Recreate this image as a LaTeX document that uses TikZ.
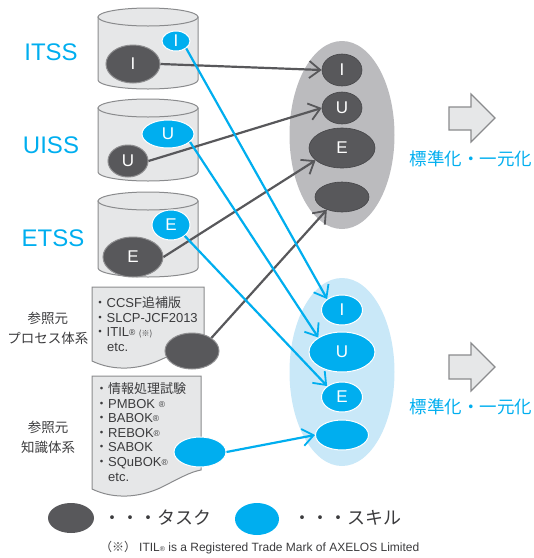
\documentclass[tikz,border=0pt]{standalone}
\usepackage{fontspec}
\setmainfont{Liberation Sans}
\newfontfamily\cjk{Noto Sans CJK JP}
\usetikzlibrary{shapes.geometric,arrows.meta}
\definecolor{cyanc}{HTML}{00AEEF}
\definecolor{taskc}{HTML}{58585B}
\definecolor{taskedge}{HTML}{8E8E90}
\definecolor{bigg}{HTML}{BBBBBE}
\definecolor{bigb}{HTML}{C9E8F8}
\definecolor{boxfill}{HTML}{E6E7E8}
\definecolor{boxedge}{HTML}{8A8B8D}
\definecolor{txt}{HTML}{3B3B3D}
\newcommand\cylshape[3]{%
 \filldraw[fill=boxfill,draw=boxedge,line width=1pt] (#1-50,#2) -- (#1-50,#3) arc[start angle=180,end angle=360,x radius=50pt,y radius=9pt] -- (#1+50,#2) -- cycle;
 \filldraw[fill=boxfill,draw=boxedge,line width=1pt] (#1,#2) ellipse[x radius=50pt,y radius=9pt];
}
\newcommand\regm{\raisebox{1pt}{\fontsize{8.5}{8.5}\selectfont ®}}
\begin{document}
\begin{tikzpicture}[x=1pt,y=-1pt,
 sz/.style 2 args={minimum width=#1pt,minimum height=#2pt},
 task/.style={ellipse,inner sep=0pt,fill=taskc,text=white,font=\fontsize{17}{17}\selectfont},
 skill/.style={ellipse,inner sep=0pt,fill=cyanc,text=white,font=\fontsize{17}{17}\selectfont},
 tedge/.style={draw=taskedge,line width=1pt},
 sedge/.style={draw=white,line width=1pt},
 tline/.style={draw=taskc,line width=2.2pt,-{Straight Barb[length=11pt,width=17pt,line width=1.8pt]}},
 sline/.style={draw=cyanc,line width=2.2pt,-{Straight Barb[length=11pt,width=17pt,line width=1.8pt]}},
 lab/.style={text=cyanc,font=\fontsize{24}{24}\selectfont,inner sep=0pt},
 reflab/.style={text=txt,font=\cjk\fontsize{13.5}{20}\selectfont,align=center,inner sep=0pt},
 doctext/.style={text=txt,font=\fontsize{13}{13}\selectfont,anchor=base west,inner sep=0pt},
 stdtext/.style={text=cyanc,font=\cjk\fontsize{17.5}{17.5}\selectfont,inner sep=0pt},
 blockarrow/.style={fill=boxfill,draw=boxedge,line width=1.2pt,line join=miter},
 legtext/.style={text=txt,font=\cjk\fontsize{18}{18}\selectfont,anchor=west,inner sep=0pt}]
\useasboundingbox (0,0) rectangle (534,558);

% labels
\node[lab] (lI) at (51,52) {ITSS};
\node[lab] (lU) at (51,145) {UISS};
\node[lab] (lE) at (53,238) {ETSS};

% cylinders
\cylshape{148}{17}{80}
\cylshape{148}{108}{172}
\cylshape{148}{201}{268}

\node[task,tedge,sz={54}{38}] (tI) at (133,64) {I};
\node[skill,sedge,sz={28}{20}] (sI) at (176,41) {I};
\node[skill,sedge,sz={52}{28}] (sU) at (168,134) {U};
\node[task,tedge,sz={40}{32}] (tU) at (128,161) {U};
\node[skill,sedge,sz={38}{30}] (sE) at (171,225) {E};
\node[task,tedge,sz={60}{40}] (tE) at (133,257) {E};

% documents
\filldraw[fill=boxfill,draw=boxedge,line width=1pt] (92,287) -- (204,287) -- (204,345)
  .. controls (190,347) and (180,351) .. (160,360) .. controls (140,369) and (115,372) .. (92,361) -- cycle;
\filldraw[fill=boxfill,draw=boxedge,line width=1pt] (92,376) -- (201,376) -- (201,470)
  .. controls (190,472) and (180,478) .. (160,488) .. controls (140,497) and (115,500) .. (92,489) -- cycle;

\node[doctext] (d1a) at (93.5,307.5) {{\cjk ・}CCSF{\cjk 追補版}};
\node[doctext] (d1b) at (93.5,322.2) {{\cjk ・}SLCP-JCF2013};
\node[doctext] (d1c) at (93.5,336.9) {{\cjk ・}ITIL\regm\ {\cjk\fontsize{8}{8}\selectfont (※)}};
\node[doctext] (d1d) at (107,351.6) {etc.};

\node[doctext] (d2a) at (95,393.5) {{\cjk ・情報処理試験}};
\node[doctext] (d2b) at (95,408.1) {{\cjk ・}PMBOK \regm};
\node[doctext] (d2c) at (95,422.7) {{\cjk ・}BABOK\regm};
\node[doctext] (d2d) at (95,437.3) {{\cjk ・}REBOK\regm};
\node[doctext] (d2e) at (95,451.9) {{\cjk ・}SABOK};
\node[doctext] (d2f) at (95,466.5) {{\cjk ・}SQuBOK\regm};
\node[doctext] (d2g) at (108,481.1) {etc.};

\node[task,tedge,sz={54}{36}] (tP) at (192,351) {};
\node[skill,sedge,sz={52}{30}] (sK) at (200,452) {};

\node[reflab] (r1) at (48,328) {参照元\\プロセス体系};
\node[reflab] (r2) at (48,437) {参照元\\知識体系};

% big ellipses
\node[ellipse,fill=bigg,sz={105}{188}] (bigG) at (342,135) {};
\node[ellipse,fill=bigb,sz={105}{188}] (bigB) at (342,372) {};

\node[task,draw=taskc!80!black,line width=0.6pt,sz={40}{32}] (gI) at (342,70) {I};
\node[task,draw=taskc!80!black,line width=0.6pt,sz={40}{32}] (gU) at (342,108) {U};
\node[task,draw=taskc!80!black,line width=0.6pt,sz={66}{40}] (gE) at (342,148) {E};
\node[task,draw=taskc!80!black,line width=0.6pt,sz={54}{30}] (gX) at (342,197) {};

\node[skill,sedge,sz={41}{30}] (kI) at (342,310) {I};
\node[skill,sedge,sz={66}{40}] (kU) at (342,352) {U};
\node[skill,sedge,sz={41}{30}] (kE) at (342,397) {E};
\node[skill,sedge,sz={53}{30}] (kX) at (342,435) {};

% block arrows and texts
\filldraw[blockarrow] (449,107) -- (471,107) -- (471,94) -- (495,118) -- (471,142) -- (471,130) -- (449,130) -- cycle;
\filldraw[blockarrow] (449,355) -- (471,355) -- (471,343) -- (495,367) -- (471,391) -- (471,379) -- (449,379) -- cycle;
\node[stdtext] (std1) at (471,159) {標準化・一元化};
\node[stdtext] (std2) at (471,407) {標準化・一元化};

% connectors
\draw[tline] (tI.east) -- (gI.west);
\draw[tline] (tU.east) -- (gU.west);
\draw[tline] (tE.east) -- (gE.205);
\draw[tline] (tP.north east) -- (gX.220);
\draw[sline] (sI.south east) -- (kI.north west);
\draw[sline] (sU.-20) -- (kU.north west);
\draw[sline] (sE.south east) -- (kE.north west);
\draw[sline] (sK.east) -- (kX.west);

% legend
\node[ellipse,fill=taskc,inner sep=0pt,sz={46}{30}] (legT) at (71,518) {};
\node[legtext] (legTt) at (103,518) {・・・タスク};
\node[ellipse,fill=cyanc,inner sep=0pt,sz={44}{32}] (legS) at (257,519) {};
\node[legtext] (legSt) at (293,518) {・・・スキル};

\node[text=txt,anchor=west,inner sep=0pt,font=\fontsize{12}{12}\selectfont] (foot) at (100,548)
  {{\cjk （※）}\hspace{3pt}ITIL{\fontsize{7}{7}\selectfont ®} is a Registered Trade Mark of AXELOS Limited};
\end{tikzpicture}
\end{document}
